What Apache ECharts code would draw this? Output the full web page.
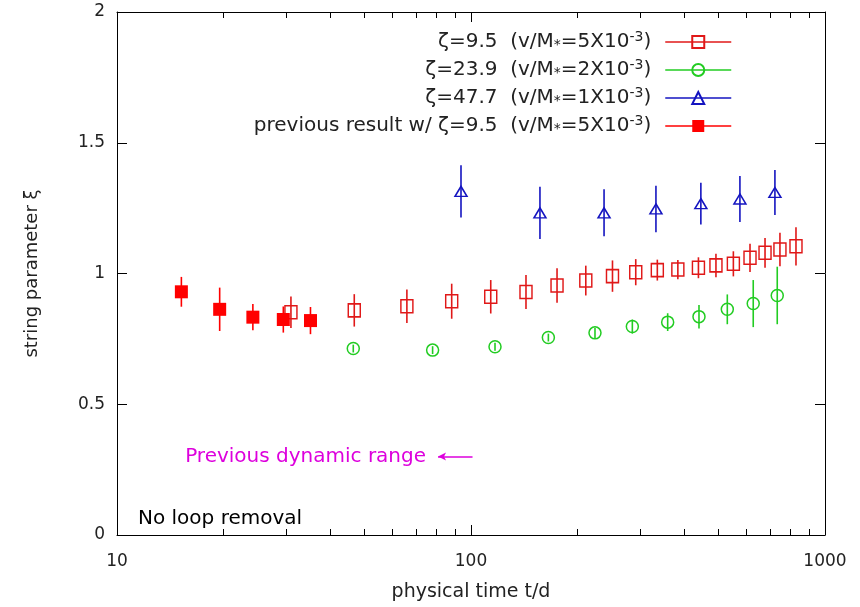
<!DOCTYPE html>
<html>
<head>
<meta charset="utf-8">
<script src="https://cdn.jsdelivr.net/npm/echarts@6/dist/echarts.min.js"></script>
<style>
  html, body { margin: 0; padding: 0; background: #fff; }
  #main { width: 860px; height: 607px; }
</style>
</head>
<body>
<div id="main"></div>
<script>
// 数据：点（t, ξ, 误差）

// 之前结果 ζ=9.5（实心方块）
const tPrev = [15.2, 19.5, 24.2, 29.5, 35.2];
const vPrev = [0.93, 0.863, 0.833, 0.824, 0.82];
const ePrev = [0.057, 0.083, 0.05, 0.05, 0.052];

// ζ=9.5（空心方块）
const tZ95 = [31.0, 46.8, 65.9, 88.2, 113.7, 143, 175, 211, 251, 292, 336, 384, 439, 492, 551, 614, 677, 746, 828];
const vZ95 = [0.852, 0.859, 0.875, 0.894, 0.911, 0.929, 0.954, 0.973, 0.990, 1.005, 1.013, 1.015, 1.022, 1.031, 1.037, 1.06, 1.079, 1.092, 1.104];
const eZ95 = [0.06, 0.062, 0.064, 0.067, 0.064, 0.065, 0.066, 0.057, 0.06, 0.05, 0.04, 0.037, 0.04, 0.045, 0.048, 0.054, 0.057, 0.064, 0.073];

// ζ=23.9（空心圆）
const tZ239 = [46.5, 77.9, 116.9, 165.4, 224, 285.6, 359.4, 440.6, 529.7, 627, 733];
const vZ239 = [0.713, 0.707, 0.720, 0.755, 0.773, 0.797, 0.814, 0.835, 0.863, 0.885, 0.916];
const eZ239 = [0.015, 0.015, 0.015, 0.015, 0.02, 0.027, 0.034, 0.045, 0.057, 0.09, 0.11];

// ζ=47.7（空心三角）
const tZ477 = [93.7, 156.6, 237.6, 333, 446, 575, 722];
const vZ477 = [1.314, 1.232, 1.232, 1.247, 1.267, 1.285, 1.310];
const eZ477 = [0.1, 0.1, 0.09, 0.089, 0.08, 0.088, 0.086];

// 箭头 "Previous dynamic range"
const arrowFrom = [101, 0.3];
const arrowTo = [80.7, 0.3];

const xMajorTicks = [10, 100, 1000];
const xMinorTicks = [20, 30, 40, 50, 60, 70, 80, 90, 200, 300, 400, 500, 600, 700, 800, 900];

const NAMES = [
  'ζ=9.5  (v/M{st|*}=5X10{sup|-3})',
  'ζ=23.9  (v/M{st|*}=2X10{sup|-3})',
  'ζ=47.7  (v/M{st|*}=1X10{sup|-3})',
  'previous result w/ ζ=9.5  (v/M{st|*}=5X10{sup|-3})'
];

const RED = '#e01818';
const RED2 = '#ff0000';
const GREEN = '#22cc22';
const BLUE = '#1414c0';
const FONT = '"DejaVu Sans", Verdana, sans-serif';
const TXT = '#222';

const pts = (ts, vs) => ts.map((t, i) => [t, vs[i]]);
const errs = (ts, vs, es) => ts.map((t, i) => [t, vs[i] - es[i], vs[i] + es[i]]);

function errRender(params, api) {
  const p1 = api.coord([api.value(0), api.value(1)]);
  const p2 = api.coord([api.value(0), api.value(2)]);
  return {
    type: 'line',
    shape: { x1: p1[0], y1: p1[1], x2: p2[0], y2: p2[1] },
    style: { stroke: api.visual('color'), lineWidth: 1.6 }
  };
}

function markSeries(name, data, symbol, size, color, filled) {
  return {
    name: name,
    type: 'line',
    data: data,
    symbol: symbol,
    symbolSize: size,
    showSymbol: true,
    lineStyle: { color: color, opacity: 0, width: 1.5 },
    itemStyle: filled
      ? { color: color, borderColor: color, borderWidth: 0 }
      : { color: 'rgba(255,255,255,0)', borderColor: color, borderWidth: 1.5 },
    emphasis: { disabled: true },
    z: 3,
    animation: false
  };
}

function errSeries(name, data, color) {
  return {
    name: name,
    type: 'custom',
    renderItem: errRender,
    data: data,
    encode: { x: 0, y: [1, 2] },
    itemStyle: { color: color },
    z: 4,
    animation: false
  };
}

const logAxis = (pos, ticks, len, showLine, showLabel) => ({
  type: 'log',
  logBase: 10,
  position: pos,
  min: 10,
  max: 1000,
  axisLine: { show: showLine, onZero: false, lineStyle: { color: '#000', width: 1 } },
  axisTick: { show: true, inside: true, length: len, customValues: ticks, lineStyle: { color: '#000', width: 1 } },
  axisLabel: {
    show: showLabel, customValues: xMajorTicks, fontSize: 17, color: TXT, fontFamily: FONT, margin: 18,
    formatter: v => String(Math.round(v))
  },
  splitLine: { show: false },
  minorTick: { show: false }
});

const valAxis = (pos, showLabel) => ({
  type: 'value',
  position: pos,
  min: 0,
  max: 2,
  interval: 0.5,
  axisLine: { show: true, onZero: false, lineStyle: { color: '#000', width: 1 } },
  axisTick: { show: true, inside: true, length: 10, lineStyle: { color: '#000', width: 1 } },
  axisLabel: { show: showLabel, fontSize: 17, color: TXT, fontFamily: FONT, margin: 12 },
  splitLine: { show: false }
});

const chart = echarts.init(document.getElementById('main'));

const xAxes = [
  Object.assign(logAxis('bottom', xMajorTicks, 10, true, true), {
    name: 'physical time t/d', nameLocation: 'middle', nameGap: 48,
    nameTextStyle: { fontSize: 19, color: TXT, fontFamily: FONT }
  }),
  logAxis('bottom', xMinorTicks, 6, false, false),
  logAxis('top', xMajorTicks, 10, true, false),
  logAxis('top', xMinorTicks, 6, false, false)
];

const yAxes = [
  Object.assign(valAxis('left', true), {
    name: 'string parameter ξ', nameLocation: 'middle', nameGap: 76, nameRotate: 90,
    nameTextStyle: { fontSize: 18, color: TXT, fontFamily: FONT }
  }),
  valAxis('right', false)
];

chart.setOption({
  backgroundColor: '#fff',
  animation: false,
  grid: { left: 117, right: 35, top: 12, bottom: 71 },
  xAxis: xAxes,
  yAxis: yAxes,
  legend: {
    data: NAMES,
    orient: 'vertical',
    align: 'right',
    right: 128,
    top: 30,
    itemWidth: 66,
    itemHeight: 15,
    itemGap: 6,
    padding: 0,
    selectedMode: false,
    lineStyle: { opacity: 1, width: 1.5 },
    textStyle: {
      fontSize: 20,
      color: TXT,
      fontFamily: FONT,
      padding: [0, 9, 0, 0],
      rich: {
        sup: { fontSize: 14, verticalAlign: 'top', color: TXT, fontFamily: FONT, padding: [0, 0, 10, 0] },
        st: { fontSize: 14, color: TXT, fontFamily: FONT, padding: [6, 0, 0, 0] }
      }
    }
  },
  graphic: [{
    type: 'text',
    left: 138,
    top: 509,
    style: { text: 'No loop removal', fill: '#000', font: '20px ' + FONT }
  }],
  series: [
    errSeries('errZ95', errs(tZ95, vZ95, eZ95), RED),
    errSeries('errZ239', errs(tZ239, vZ239, eZ239), GREEN),
    errSeries('errZ477', errs(tZ477, vZ477, eZ477), BLUE),
    errSeries('errPrev', errs(tPrev, vPrev, ePrev), RED2),
    markSeries(NAMES[0], pts(tZ95, vZ95), 'rect', [12, 13], RED, false),
    markSeries(NAMES[1], pts(tZ239, vZ239), 'circle', 12, GREEN, false),
    markSeries(NAMES[2], pts(tZ477, vZ477), 'triangle', [12, 10], BLUE, false),
    markSeries(NAMES[3], pts(tPrev, vPrev), 'rect', [13, 13], RED2, true),
    {
      name: 'range',
      type: 'line',
      data: [],
      markLine: {
        silent: true,
        symbol: ['none', 'arrow'],
        symbolSize: [6, 8],
        lineStyle: { color: '#dd00dd', width: 1.5, type: 'solid' },
        label: {
          show: true, position: 'end', distance: 12, formatter: 'Previous dynamic range',
          color: '#dd00dd', fontSize: 20, fontFamily: FONT
        },
        data: [[{ coord: arrowFrom }, { coord: arrowTo }]]
      }
    }
  ]
});
</script>
</body>
</html>
